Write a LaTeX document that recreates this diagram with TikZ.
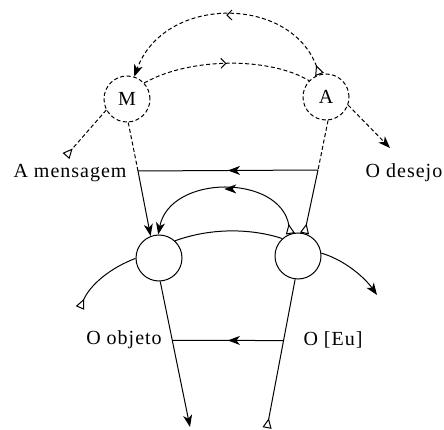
\documentclass[tikz,border=0pt]{standalone}
\usepackage{fontspec}
\newfontfamily\lblfont[LetterSpace=5]{Liberation Serif}
\usetikzlibrary{arrows.meta,decorations.markings,calc}
\tikzset{
  Hd/.tip={Stealth[length=12pt,width=9pt,inset=3.5pt]},
  Tl/.tip={Triangle[open,reversed,length=10pt,width=9pt]},
  Ch/.tip={Straight Barb[length=5pt,width=10pt]},
  circ/.style={circle,draw,minimum size=46pt,inner sep=0pt,font=\lblfont\fontsize{20}{24}\selectfont},
  dcirc/.style={circ,dsh},
  txt/.style={inner sep=0pt,font=\lblfont\fontsize{20}{24}\selectfont},
  dsh/.style={dash pattern=on 4pt off 2.5pt},
  midarrow/.style={postaction={decorate},decoration={markings,mark=at position 0.5 with {\arrow{Hd}}}},
  midchev/.style={postaction={decorate},decoration={markings,mark=at position 0.5 with {\arrow[solid]{Ch}}}},
}
\begin{document}
\begin{tikzpicture}[x=1pt,y=-1pt,line width=1pt]
\useasboundingbox (0,0) rectangle (444,430);
\node[dcirc] (M) at (127,99) {M};
\node[dcirc] (A) at (326,97) {A};
\node[circ] (L) at (159,258) {};
\node[circ] (R) at (298,256) {};
\node[txt] (msg) at (70,173) {A mensagem};
\node[txt] (des) at (404,173) {O desejo};
\node[txt] (obj) at (124,340) {O objeto};
\node[txt] (eu) at (333,340) {O [Eu]};
\coordinate (m1) at (138,171);
\coordinate (a1) at (318,170);
\coordinate (tm) at (66,156);
\coordinate (td) at (390,148);
\coordinate (tl) at (80,308);
\coordinate (tr) at (377,295);
\coordinate (bl) at (190,427);
\coordinate (br) at (267,428);
% top dashed arcs
\draw[dsh,{Tl}-{Hd},midchev] (A.106) .. controls (290,-5) and (164,-5) .. (M.72);
\draw[dsh,midchev] (M.43) .. controls (190,57) and (270,57) .. (A.136);
\draw[dsh,-{Tl}] (M.208) -- (tm);
\draw[dsh,-{Hd}] (A.-20) -- (td);
% verticals from M and A
\draw[dsh] (M.-87) -- (m1);
\draw[-{Hd}] (m1) -- (L.111);
\draw[dsh] (A.-85) -- (a1);
\draw[-{Tl}] (a1) -- (R.74);
\draw[midarrow] (a1) -- (m1);
% big arc
\draw[{Tl}-{Hd},midarrow] (R.109) .. controls (280,174) and (170,174) .. (L.92);
% lower arc
\draw (L.47) .. controls (210,228) and (250,228) .. (R.132);
% side arcs
\draw[-{Tl}] (L.181) .. controls (110,268) and (90,285) .. (tl);
\draw[-{Hd}] (R.7) .. controls (345,260) and (365,278) .. (tr);
% lower verticals
\draw[-{Hd}] (L.-87) -- (bl);
\draw[-{Tl}] (R.-97) -- (br);
\coordinate (bhl) at ($(L.-87)!0.404!(bl)$);
\coordinate (bhr) at ($(R.-97)!0.412!(br)$);
\draw[midarrow] (bhr) -- (bhl);
\end{tikzpicture}
\end{document}
